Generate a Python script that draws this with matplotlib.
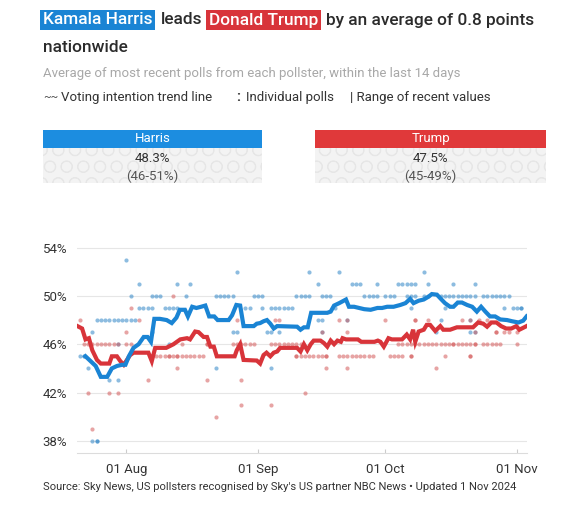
import datetime
import numpy as np
import matplotlib as mpl
mpl.use('Agg')
import matplotlib.pyplot as plt
from matplotlib.patches import Rectangle

plt.rcParams['font.family'] = ['Roboto', 'DejaVu Sans']
plt.rcParams['hatch.linewidth'] = 0.6

W, H = 588, 528
BLUE = '#1a84d4'
RED = '#d8343a'
BAR_BLUE = '#1c8de0'
BAR_RED = '#e0393a'
DARK = '#2b2b2b'

# ---- data ----
origin = datetime.date(2024, 8, 1)
month_ticks = [datetime.date(2024, 8, 1), datetime.date(2024, 9, 1),
               datetime.date(2024, 10, 1), datetime.date(2024, 11, 1)]
month_labels = ['01 Aug', '01 Sep', '01 Oct', '01 Nov']
y_ticks = [38, 42, 46, 50, 54]

# trend lines: days relative to 1 Aug, value in %
harris_day = [-9.6, -8.4, -7.2, -6, -4.5, -3.4, -2.2, -1, -0.2, 0.6, 1.7, 2.9, 4.1, 5, 5.8,
              6.6, 7.9, 9.5, 10.7, 11.8, 12.6, 13.8, 14.5, 15.5, 16.5, 17.6, 18.6, 19.5,
              20.7, 21.5, 24.1, 24.9, 25.9, 26.8, 27.6, 30, 30.7, 31.5, 32.3, 33.1, 33.9,
              34.7, 35.5, 40.2, 41, 41.8, 42.7, 43.5, 47.3, 48.1, 48.9, 50.1, 51.7, 52.4,
              53.6, 54.8, 56, 57.5, 59.1, 60.2, 61.4, 62.9, 64.5, 65.7, 66.8, 67.6, 68.8,
              70, 71.2, 71.9, 73.1, 73.9, 75, 76.2, 77, 78, 79, 80.2, 81.4, 82.5, 83.5,
              84.5, 85.6, 86.8, 88, 89.6, 90.8, 92.3, 93.4, 94.2]
harris_trend = [45.0, 44.6, 44.2, 43.3, 43.3, 44.0, 44.2, 44.3, 44.3, 45.0, 45.7, 46.0, 46.6,
                46.6, 46.2, 48.1, 48.1, 48.0, 47.75, 48.2, 48.85, 48.85, 48.3, 49.1, 49.0,
                49.1, 49.2, 48.3, 48.3, 48.0, 48.0, 48.4, 49.25, 49.2, 47.5, 47.5, 47.7,
                47.75, 47.9, 48.0, 47.7, 47.3, 47.5, 47.45, 47.2, 47.4, 47.4, 48.6, 48.6,
                48.7, 49.2, 49.4, 49.7, 49.1, 49.1, 49.0, 48.9, 48.85, 49.0, 49.0, 49.1,
                49.1, 49.25, 49.4, 49.75, 49.4, 49.6, 49.7, 49.95, 50.15, 50.1, 49.8, 49.4,
                49.1, 49.1, 49.45, 49.45, 49.25, 49.1, 48.7, 49.1, 48.7, 48.3, 48.3, 48.05,
                48.0, 47.9, 47.8, 47.95, 48.3]

trump_day = [-11.5, -10.4, -9.6, -8.8, -8, -6.9, -6, -4, -3.4, -2.2, -1.4, -0.6, 0.9, 1.7,
             5.2, 6, 6.8, 9.4, 11.1, 12.7, 14.3, 15, 16.2, 17, 18.2, 19, 19.8, 20.6, 21.3,
             25.5, 26, 26.8, 27.6, 30.7, 31.5, 32.3, 33, 33.9, 34.7, 35.5, 36.2, 40.2, 41,
             41.8, 42.6, 43.4, 44.1, 45.7, 46.5, 47.3, 48.1, 48.9, 49.7, 50.5, 50.9, 51.7,
             54.5, 55.3, 58.4, 59.2, 59.8, 60.6, 61.7, 62.5, 64.9, 66, 66.8, 67.5, 68,
             68.8, 70, 70.7, 71.5, 72.7, 73.9, 74.6, 76.2, 77.8, 81.6, 82.8, 84, 84.9,
             85.9, 87.1, 88.2, 89.4, 90.6, 91.8, 92.5, 94.2]
trump_trend = [47.5, 47.3, 46.4, 46.5, 45.5, 44.7, 44.4, 44.4, 45.0, 45.0, 44.6, 44.3, 45.1,
               45.3, 45.3, 44.6, 45.7, 45.7, 46.0, 46.4, 46.5, 46.4, 47.05, 47.0, 46.6, 46.6,
               45.8, 45.8, 45.0, 45.0, 45.5, 46.0, 44.7, 44.65, 44.4, 45.1, 45.3, 45.0, 45.3,
               45.4, 45.7, 45.7, 45.4, 46.0, 45.5, 46.0, 46.3, 46.3, 46.1, 45.8, 46.3, 46.0,
               46.3, 46.2, 46.5, 46.4, 46.4, 46.2, 46.2, 46.3, 46.2, 45.8, 46.5, 46.4, 46.4,
               46.8, 46.4, 47.2, 46.2, 47.05, 47.2, 47.6, 47.6, 47.1, 47.5, 47.2, 47.2, 47.4,
               47.4, 47.8, 47.7, 47.45, 47.8, 47.8, 47.5, 47.3, 47.3, 47.5, 47.2, 47.5]

# individual polls: level (%) -> days relative to 1 Aug (repeats = overlapping polls)
harris_polls = {
    53: [0],
    52: [26, 43, 50, 70],
    51: [3, 12, 15, 45, 53, 54, 55, 59, 64, 65, 66, 67, 68, 71, 77, 82],
    50: [1, 6, 7, 8, 14, 21, 22, 23, 24, 25, 30, 31, 32, 40, 41, 42, 43, 46, 47, 48,
         56, 57, 58, 59, 61, 62, 63, 66, 67, 68, 70, 71, 74, 75, 76, 77, 78, 79, 80,
         81, 82, 84, 85, 86, 87, 88, 89, 90],
    49: [3, 4, 5, 6, 9, 10, 11, 12, 28, 29, 32, 34, 35, 36, 37, 38, 39, 49, 67, 75,
         89, 91, 92, 93, 93],
    48: [-7, -6, -5, -4, -3, -2, -1, 0, 1, 2, 45, 46, 52, 74, 81],
    47: [-8, 6, 25, 26, 33, 34, 36, 46, 73, 81, 82],
    46: [-2, 10],
    45: [-11, -10, -10],
    44: [-9, 21, 34],
    43: [-4, -2],
    38: [-8, -7, -7],
}
trump_polls = {
    50: [11],
    49: [1],
    48: [-11, 3, 26, 35, 36, 50, 52, 61, 68, 68, 71, 79, 81, 83, 85],
    47: [0, 46, 52, 82, 87, 87, 89, 90, 92],
    46: [-10, -9, -8, -7, -6, -5, -4, -3, -2, 0, 1, 13, 19, 19, 25, 26, 27, 28, 29,
         30, 34, 35, 36, 37, 38, 39, 40, 41, 64, 65, 66, 67, 68, 69, 70, 71, 72, 73,
         74, 75, 76, 77, 77, 78, 79, 80, 81, 82, 82, 84, 85, 86, 87, 88, 92],
    45: [7, 8, 9, 10, 10, 11, 12, 12, 13, 14, 15, 16, 17, 18, 40, 40, 41, 42, 43, 44,
         45, 46, 47, 47, 50, 51, 52, 53, 54, 55, 56, 57, 58, 62, 63, 64, 65, 67, 67,
         75, 81, 81],
    44: [12, 47, 52, 73],
    43: [5, 19, 27],
    42: [-9, -4, -2, 42],
    41: [27, 34],
    40: [21],
    39: [-8],
}

harris_now, harris_range = '48.3%', '(46-51%)'
trump_now, trump_range = '47.5%', '(45-49%)'


def px(x, y):
    return x / W, 1 - y / H


fig = plt.figure(figsize=(W / 100, H / 100), dpi=100)
fig.patch.set_facecolor('white')
r = fig.canvas.get_renderer()

# ---- title built piece by piece ----
title_pieces = [
    ('Kamala Harris', 'white', BLUE),
    ('leads', DARK, None),
    ('Donald Trump', 'white', RED),
    ('by an average of 0.8 points', DARK, None),
]
x = 43
for s, col, box in title_pieces:
    kw = dict(fontsize=12.4, fontweight='medium', color=col, va='center', ha='left')
    if box is not None:
        kw['bbox'] = dict(boxstyle='square,pad=0.16', fc=box, ec='none')
    t = fig.text(*px(x, 20), s, **kw)
    bb = t.get_window_extent(r)
    x = bb.x1 + (8 if box is not None else 7)
fig.text(*px(43, 47), 'nationwide', fontsize=12.4, fontweight='medium', color=DARK,
         va='center', ha='left')

fig.text(*px(43, 74), 'Average of most recent polls from each pollster, within the last 14 days',
         fontsize=9.5, color='#a8a8a8', va='center', ha='left')

# legend line
fig.text(*px(43, 97), '~~', fontsize=8, color='#444444', va='center', ha='left')
fig.text(*px(61, 98), 'Voting intention trend line', fontsize=9.5, color='#333333',
         va='center', ha='left')
fig.text(*px(236, 97), ':', fontsize=10, fontweight='bold', color='#333333', va='center', ha='left')
fig.text(*px(246, 98), 'Individual polls', fontsize=9.5, color='#333333', va='center', ha='left')
fig.text(*px(350, 98), '| Range of recent values', fontsize=9.5, color='#333333',
         va='center', ha='left')

# summary boxes
for x0, x1, name, bar, now, rng in [(43, 262, 'Harris', BAR_BLUE, harris_now, harris_range),
                                    (315, 546, 'Trump', BAR_RED, trump_now, trump_range)]:
    fig.patches.append(Rectangle(px(x0, 183), (x1 - x0) / W, 36 / H, transform=fig.transFigure,
                                 fc='#f3f3f3', ec='#e6e6e6', hatch='O', lw=0))
    fig.patches.append(Rectangle(px(x0, 148), (x1 - x0) / W, 18 / H, transform=fig.transFigure,
                                 fc=bar, ec='none'))
    cx = (x0 + x1) / 2
    fig.text(*px(cx, 139), name, fontsize=9.5, color='white', va='center', ha='center')
    fig.text(*px(cx, 158), now, fontsize=9.5, color='#333333', va='center', ha='center')
    fig.text(*px(cx, 176), rng, fontsize=9.5, color='#555555', va='center', ha='center')

# ---- chart ----
ax = fig.add_axes([77 / W, 1 - 453 / H, (527 - 77) / W, (453 - 241.5) / H])
ax.set_xlim(-11.6, 94.3)
ax.set_ylim(37.0, 54.5)

for lvl, days in harris_polls.items():
    ax.scatter(days, [lvl] * len(days), s=9, color='#2f86c8', alpha=0.55, lw=0, zorder=2)
for lvl, days in trump_polls.items():
    ax.scatter(days, [lvl] * len(days), s=9, color='#d45a5a', alpha=0.55, lw=0, zorder=2)

ax.plot(trump_day, trump_trend, color=RED, lw=3.0, solid_joinstyle='miter', zorder=3)
ax.plot(harris_day, harris_trend, color=BLUE, lw=3.0, solid_joinstyle='miter', zorder=4)

ax.set_yticks(y_ticks)
ax.set_yticklabels([f'{v}%' for v in y_ticks])
ax.set_xticks([(d - origin).days for d in month_ticks])
ax.set_xticklabels(month_labels)
ax.grid(axis='y', color='#e6e6e6', lw=0.8)
ax.set_axisbelow(True)
for side in ['top', 'right', 'left']:
    ax.spines[side].set_visible(False)
ax.spines['bottom'].set_color('#dcdcdc')
ax.spines['bottom'].set_linewidth(0.8)
ax.tick_params(axis='y', length=0, pad=7, labelsize=9.5, labelcolor='#333333')
ax.tick_params(axis='x', length=3, direction='in', color='#cccccc', pad=7,
               labelsize=9.5, labelcolor='#333333')

fig.text(*px(43, 487), "Source: Sky News, US pollsters recognised by Sky's US partner NBC News \u2022 Updated 1 Nov 2024",
         fontsize=8, color='#333333', va='center', ha='left')

fig.savefig('out.png', dpi=100)
